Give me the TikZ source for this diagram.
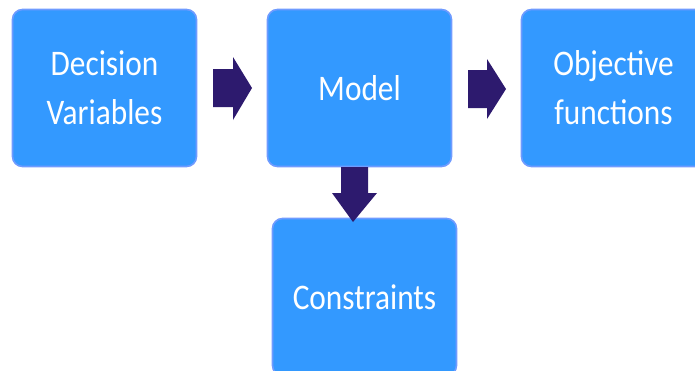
\documentclass[tikz,border=0pt]{standalone}
\usepackage{fontspec}
\setmainfont{Carlito}[FakeStretch=0.87]
\begin{document}
\begin{tikzpicture}[x=1pt,y=-1pt,
  box/.style={draw=boxedge, line width=1.6pt, fill=boxfill, rounded corners=10pt,
    minimum width=184pt, minimum height=157pt, inner sep=0pt,
    text=white, align=center, font=\fontsize{36}{49}\selectfont},
  blockarrow/.style={fill=arrowfill, draw=none}]
\definecolor{boxfill}{HTML}{3399FF}
\definecolor{boxedge}{HTML}{6F9BFF}
\definecolor{arrowfill}{HTML}{2D1A6E}
\useasboundingbox (0,0) rectangle (695,370);

\node[box] (dec) at (104.5,88) {Decision\\Variables};
\node[box] (mod) at (359.5,88) {Model};
\node[box] (obj) at (613.5,88) {Objective\\functions};
\node[box] (con) at (364.5,297) {Constraints};

% block arrows between the boxes
\fill[blockarrow] (213,69) -- (233,69) -- (233,57) -- (252,88) -- (233,120)
  -- (233,107) -- (213,107) -- cycle;
\fill[blockarrow] (468,70) -- (487,70) -- (487,59) -- (506,89) -- (487,119)
  -- (487,108) -- (468,108) -- cycle;
\fill[blockarrow] (341,167) -- (368,167) -- (368,193) -- (377,193) -- (353,222)
  -- (332,193) -- (341,193) -- cycle;
\end{tikzpicture}
\end{document}
